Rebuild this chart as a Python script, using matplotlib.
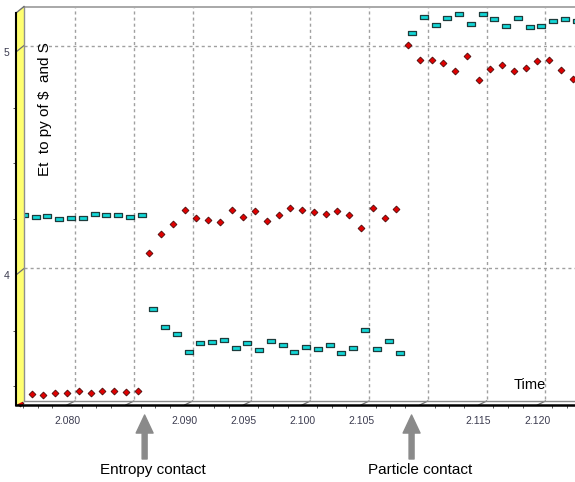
import numpy as np
import matplotlib
matplotlib.use("Agg")
import matplotlib.pyplot as plt
import matplotlib.transforms as mtrans
from matplotlib.lines import Line2D
from matplotlib.patches import Polygon
from matplotlib.path import Path
from matplotlib.ticker import MultipleLocator, FixedLocator, FixedFormatter

# ---------------- data ----------------
time = [2.076, 2.077, 2.078, 2.079, 2.080, 2.081, 2.082, 2.083, 2.084, 2.085,
        2.086, 2.087, 2.088, 2.089, 2.090, 2.091, 2.092, 2.093, 2.094, 2.095,
        2.096, 2.097, 2.098, 2.099, 2.100, 2.101, 2.102, 2.103, 2.104, 2.105,
        2.106, 2.107, 2.108, 2.109, 2.110, 2.111, 2.112, 2.113, 2.114, 2.115,
        2.116, 2.117, 2.118, 2.119, 2.120, 2.121, 2.122, 2.123]

series_red = [3.426, 3.466, 3.460, 3.469, 3.473, 3.482, 3.471, 3.480, 3.482, 3.475, 3.480,
              4.097, 4.183, 4.227, 4.291, 4.256, 4.247, 4.238, 4.291, 4.260, 4.287,
              4.242, 4.270, 4.299, 4.291, 4.283, 4.275, 4.287, 4.270, 4.212, 4.299,
              4.256, 4.295,
              5.030, 4.964, 4.964, 4.952, 4.913, 4.982, 4.874, 4.922, 4.943, 4.913,
              4.930, 4.960, 4.964, 4.918, 4.879]

series_cyan = [4.254, 4.245, 4.250, 4.238, 4.241, 4.241, 4.259, 4.254, 4.254, 4.245, 4.254,
               3.833, 3.753, 3.723, 3.640, 3.683, 3.687, 3.696, 3.658, 3.683, 3.649,
               3.692, 3.671, 3.640, 3.662, 3.653, 3.674, 3.635, 3.658, 3.740, 3.653,
               3.692, 3.635,
               5.070, 5.145, 5.106, 5.140, 5.158, 5.111, 5.158, 5.133, 5.102, 5.138,
               5.097, 5.102, 5.127, 5.133, 5.127]

x_major = [2.080, 2.085, 2.090, 2.095, 2.100, 2.105, 2.110, 2.115, 2.120]
x_labels = ["2.080", "", "2.090", "2.095", "2.100", "2.105", "", "2.115", "2.120"]
y_major = [4, 5]
y_labels = ["4", "5"]
contact_times = [2.0866, 2.1093]
contact_labels = ["Entropy contact", "Particle contact"]

# ---------------- layout ----------------
W, H, DPI = 575, 482, 100
fig = plt.figure(figsize=(W / DPI, H / DPI), dpi=DPI)
L, R, T, B = 16, 575, 13, 405
ax = fig.add_axes([L / W, 1 - B / H, (R - L) / W, (B - T) / H])
XMIN, XMAX = 2.075663, 2.123197
YMIN, YMAX = 3.4170, 5.1749
ax.set_xlim(XMIN, XMAX)
ax.set_ylim(YMIN, YMAX)
ax.patch.set_visible(False)
for s in ax.spines.values():
    s.set_visible(False)

FONT = "Liberation Sans"
tick_col = "#3c3c50"

# ticks
ax.xaxis.set_major_locator(FixedLocator(x_major))
ax.xaxis.set_major_formatter(FixedFormatter(x_labels))
ax.xaxis.set_minor_locator(MultipleLocator(0.00125))
ax.yaxis.set_major_locator(FixedLocator(y_major))
ax.yaxis.set_major_formatter(FixedFormatter(y_labels))
ax.yaxis.set_minor_locator(MultipleLocator(0.25))
ax.tick_params(axis="x", which="major", length=0, pad=8, labelsize=7.5,
               labelcolor=tick_col)
ax.tick_params(axis="x", which="minor", length=2.5, width=0.7, color="#555555",
               direction="out")
ax.tick_params(axis="y", which="major", length=0, pad=4.5, labelsize=7.5,
               labelcolor=tick_col)
ax.tick_params(axis="y", which="minor", length=2.5, width=0.7, color="#555555",
               direction="out")
for lab in ax.get_xticklabels() + ax.get_yticklabels():
    lab.set_family(FONT)

# depth transforms (3D look)
back = ax.transData + mtrans.ScaledTranslation(8 / DPI, 6.5 / DPI, fig.dpi_scale_trans)
floor_back = ax.transData + mtrans.ScaledTranslation(8 / DPI, 4 / DPI, fig.dpi_scale_trans)
ident = mtrans.IdentityTransform()

def disp(tr, x, y):
    return tr.transform((x, y))

# yellow wall
pts = [disp(ax.transData, XMIN, YMIN), disp(ax.transData, XMIN, YMAX),
       disp(back, XMIN, YMAX), disp(floor_back, XMIN, YMIN)]
fig.add_artist(Polygon(pts, closed=True, transform=ident, facecolor="#ffff70",
                       edgecolor="none", zorder=1))

grid_kw = dict(color="#a0a0a0", lw=1.0, ls=(0, (2.2, 2.2)), clip_on=False, zorder=1)
for xv in x_major:
    ax.plot([xv, xv], [YMIN, YMAX], transform=back, **grid_kw)
for yv in y_major:
    ax.plot([XMIN, XMAX], [yv, yv], transform=back, **grid_kw)

def seg(p0, p1, **kw):
    fig.add_artist(Line2D([p0[0], p1[0]], [p0[1], p1[1]], transform=ident, **kw))

# slanted connectors for major ticks
for xv in x_major:
    seg(disp(ax.transData, xv, YMIN), disp(floor_back, xv, YMIN), color="#707070", lw=0.9, zorder=2)
for yv in y_major:
    seg(disp(ax.transData, XMIN, yv), disp(back, XMIN, yv), color="#707070", lw=0.9, zorder=2)

# back plane borders
seg(disp(back, XMIN, YMAX), disp(back, XMAX, YMAX), color="#a8a8a8", lw=1.4, zorder=2)
seg(disp(back, XMIN, YMAX), disp(floor_back, XMIN, YMIN), color="#909090", lw=1.0, zorder=2)
seg(disp(floor_back, XMIN, YMIN), disp(floor_back, XMAX, YMIN), color="#8a8a8a", lw=1.0, zorder=2)
# wall top edge and front edges
seg(disp(ax.transData, XMIN, YMAX), disp(back, XMIN, YMAX), color="#707070", lw=1.0, zorder=2)
seg(disp(ax.transData, XMIN, YMIN), disp(ax.transData, XMIN, YMAX), color="black", lw=1.5, zorder=3)
seg(disp(ax.transData, XMIN, YMIN), disp(ax.transData, XMAX, YMIN), color="black", lw=1.8, zorder=3)

# series
rect_marker = Path([(-1, -0.6), (1, -0.6), (1, 0.6), (-1, 0.6), (-1, -0.6)],
                   [Path.MOVETO, Path.LINETO, Path.LINETO, Path.LINETO, Path.CLOSEPOLY])
cyan_tr = ax.transData + mtrans.ScaledTranslation(4 / DPI, 3 / DPI, fig.dpi_scale_trans)
ax.plot(time, series_cyan, ls="none", marker=rect_marker, ms=5.3, mfc="#12d8d8",
        mec="#1e3c3c", mew=0.9, transform=cyan_tr, clip_on=False, zorder=5)
ax.plot(time, series_red, ls="none", marker="D", ms=3.5, mfc="#e00000",
        mec="#4a0a0a", mew=0.6, clip_on=False, zorder=6)

# labels
fig.text(530 / W, 1 - 385 / H, "Time", ha="center", va="center", fontsize=10.5,
         family=FONT, color="black")
fig.text(45 / W, 1 - 109 / H, "Et  to py of $  and S", rotation=90, ha="center",
         va="center", fontsize=11, family=FONT, color="black")

# contact arrows
for t, lab in zip(contact_times, contact_labels):
    ax.annotate("", xy=(t, H - 415), xycoords=("data", "figure pixels"),
                xytext=(t, H - 459), textcoords=("data", "figure pixels"),
                arrowprops=dict(arrowstyle="simple,head_length=1.3,head_width=1.22,tail_width=0.36",
                                color="#8a8a8a", shrinkA=0, shrinkB=0, mutation_scale=10),
                annotation_clip=False)
    ax.annotate(lab, xy=(t, H - 470), xycoords=("data", "figure pixels"),
                xytext=(6, 0), textcoords="offset points", ha="center", va="center",
                fontsize=11, family=FONT, color="black", annotation_clip=False)

fig.savefig("out.png", dpi=DPI)
